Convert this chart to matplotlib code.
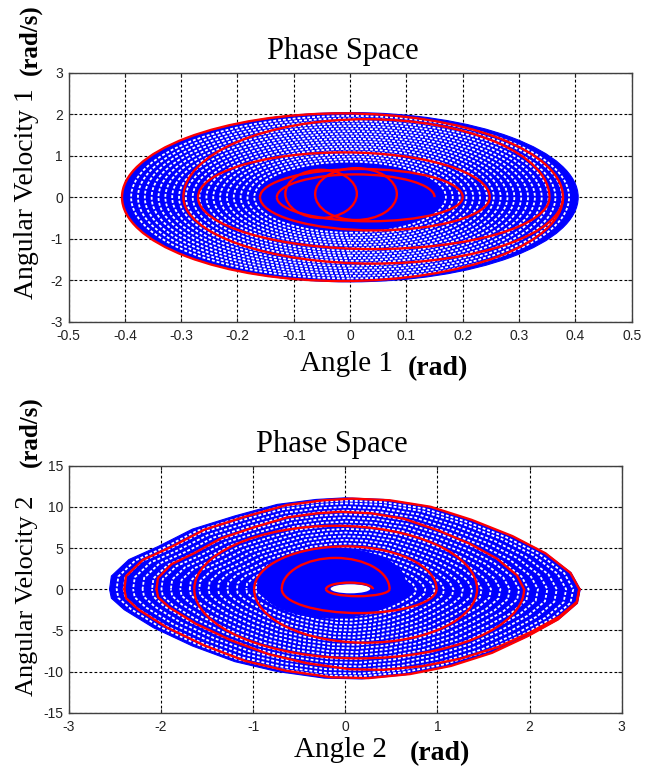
import numpy as np
import matplotlib
matplotlib.use("Agg")
import matplotlib.pyplot as plt
from matplotlib.patches import Ellipse, Arc, Polygon
from matplotlib.transforms import Affine2D

plt.rcParams['axes.unicode_minus'] = False

# ---------------- data ----------------
angle1_ticks = [-0.5, -0.4, -0.3, -0.2, -0.1, 0, 0.1, 0.2, 0.3, 0.4, 0.5]
angle1_labels = ['-0.5', '-0.4', '-0.3', '-0.2', '-0.1', '0', '0.1', '0.2', '0.3', '0.4', '0.5']
vel1_ticks = [-3, -2, -1, 0, 1, 2, 3]
angle2_ticks = [-3, -2, -1, 0, 1, 2, 3]
vel2_ticks = [-15, -10, -5, 0, 5, 10, 15]

# chart 1: blue region (semi-axes) and dense core
angle1_extent = [-0.405, 0.405]
vel1_extent = [-2.04, 2.04]
angle1_core = [-0.16, 0.15]
vel1_core = [-0.62, 0.74]
ring1_scale = [0.42, 0.45, 0.48, 0.51, 0.54, 0.57, 0.60, 0.63, 0.66, 0.69,
               0.72, 0.75, 0.78, 0.81, 0.84, 0.87, 0.90, 0.93, 0.96]

# chart 1: red trajectory, zero crossings and peaks of each half loop
red1_right = [0.15, 0.20, 0.248, 0.354, 0.378, 0.378]
red1_left = [-0.13, -0.16, -0.27, -0.296, -0.405]
red1_top = [0.55, 0.68, 1.08, 1.88, 2.02]
red1_bottom = [-0.58, -0.80, -1.25, -1.60, -2.02]
# chart 1: small closed red loops in the centre (left, right, bottom, top)
red1_loop_left = [-0.115, -0.062]
red1_loop_right = [0.012, 0.083]
red1_loop_bottom = [-0.50, -0.55]
red1_loop_top = [0.66, 0.70]

# chart 2: blue region outline (upper edge then lower edge)
angle2_edge = [-2.56, -2.54, -2.35, -2.03, -1.66, -1.20, -0.74, -0.32, 0.00, 0.42,
               0.88, 1.34, 1.80, 2.17, 2.45, 2.55, 2.52, 2.31, 1.98, 1.57,
               1.11, 0.65, 0.18, -0.23, -0.74, -1.20, -1.66, -2.08, -2.40, -2.54]
vel2_edge = [0.0, 1.6, 3.6, 5.2, 7.3, 8.9, 10.3, 10.9, 11.1, 10.9,
             10.1, 8.5, 6.5, 4.4, 2.0, 0.0, -1.7, -3.7, -5.7, -7.8,
             -9.4, -10.4, -10.9, -10.8, -10.0, -8.8, -6.9, -4.7, -2.5, -1.1]
angle2_core = [-0.95, 0.65]
vel2_core = [-3.5, 5.0]
angle2_hole = [-0.16, 0.27]
vel2_hole = [-0.5, 0.6]
ring2_scale = [0.30, 0.34, 0.38, 0.42, 0.46, 0.50, 0.54, 0.58, 0.62, 0.66,
               0.70, 0.74, 0.78, 0.82, 0.86, 0.90, 0.94, 0.97]

# chart 2: red trajectory
red2_right = [0.30, 0.48, 0.99, 1.43, 1.94, 2.54, 2.54]
red2_left = [-0.21, -0.69, -0.99, -1.64, -2.05, -2.40]
red2_top = [0.8, 3.8, 5.2, 7.7, 9.4, 11.0]
red2_bottom = [-0.85, -2.9, -6.5, -8.4, -9.8, -10.8]
red2_lens_from = 4   # loops from this index on follow the lens-shaped boundary

BLUE = '#0000ff'
RED = '#ff0000'

W, H = 668, 771
fig = plt.figure(figsize=(W / 100, H / 100), dpi=100)
ax1 = fig.add_axes([68.5 / W, 1 - 321.7 / H, 563.2 / W, 249.0 / H])
ax2 = fig.add_axes([69.0 / W, 1 - 712.7 / H, 552.7 / W, 247.0 / H])


def style(ax, xt, yt, xl=None):
    ax.set_xticks(xt)
    ax.set_yticks(yt)
    if xl is not None:
        ax.set_xticklabels(xl)
    ax.set_xlim(xt[0], xt[-1])
    ax.set_ylim(yt[0], yt[-1])
    ax.set_axisbelow(True)
    ax.grid(True, color='black', linestyle=(0, (2.5, 2.0)), linewidth=0.8)
    ax.tick_params(direction='in', length=3, width=0.8, top=True, right=True,
                   labelsize=10, colors='#222222')
    ax.tick_params(axis='x', pad=5)
    ax.tick_params(axis='y', pad=4)
    for lab in ax.get_xticklabels() + ax.get_yticklabels():
        lab.set_family('Liberation Sans')
    for s in ax.spines.values():
        s.set_color('#404040')
        s.set_linewidth(1.0)


def white_ring_style(i):
    return dict(edgecolor='white', lw=1.3, linestyle=((i * 1.3) % 3.0, (1.6, 1.1)))


# normalised lens half-shapes taken from the blue outline of chart 2
ex = np.asarray(angle2_edge)
ey = np.asarray(vel2_edge)
i_right = int(np.argmax(ex))
up_x, up_y = ex[:i_right + 1], ey[:i_right + 1]
lo_x = np.append(ex[i_right:], ex[0])
lo_y = np.append(ey[i_right:], ey[0])
def norm_half(x, y):
    return (x - ex.min()) / (ex.max() - ex.min()), np.abs(y) / np.abs(y).max()
up_u, up_v = norm_half(up_x, up_y)
lo_u, lo_v = norm_half(lo_x, lo_y)


def red_spiral(ax, right, left, top, bottom, lens_from=None):
    for i in range(len(left)):
        r0, l0, r1 = right[i], left[i], right[i + 1]
        if lens_from is not None and i >= lens_from:
            ax.plot(l0 + up_u * (r0 - l0), up_v * top[i], color=RED, lw=1.7, zorder=5)
            ax.plot(l0 + lo_u * (r1 - l0), -lo_v * abs(bottom[i]), color=RED, lw=1.7, zorder=5)
        else:
            ax.add_patch(Arc(((r0 + l0) / 2, 0), r0 - l0, 2 * top[i], theta1=0, theta2=180,
                             color=RED, lw=1.7, zorder=5))
            ax.add_patch(Arc(((l0 + r1) / 2, 0), r1 - l0, -2 * bottom[i], theta1=180, theta2=360,
                             color=RED, lw=1.7, zorder=5))


# ---------------- chart 1 ----------------
style(ax1, angle1_ticks, vel1_ticks, angle1_labels)
cx1 = (angle1_extent[0] + angle1_extent[1]) / 2
cy1 = (vel1_extent[0] + vel1_extent[1]) / 2
w1 = angle1_extent[1] - angle1_extent[0]
h1 = vel1_extent[1] - vel1_extent[0]
ax1.add_patch(Ellipse((cx1, cy1), w1, h1, facecolor=BLUE, edgecolor=BLUE, lw=0.8, zorder=2))
for i, s in enumerate(ring1_scale):
    ax1.add_patch(Ellipse((cx1, cy1), w1 * s, h1 * s, fill=False, zorder=3, **white_ring_style(i)))
ax1.add_patch(Ellipse(((angle1_core[0] + angle1_core[1]) / 2, (vel1_core[0] + vel1_core[1]) / 2),
                      angle1_core[1] - angle1_core[0], vel1_core[1] - vel1_core[0],
                      facecolor=BLUE, edgecolor=BLUE, zorder=4))
red_spiral(ax1, red1_right, red1_left, red1_top, red1_bottom)
for l0, r0, b0, t0 in zip(red1_loop_left, red1_loop_right, red1_loop_bottom, red1_loop_top):
    ax1.add_patch(Ellipse(((l0 + r0) / 2, (b0 + t0) / 2), r0 - l0, t0 - b0,
                          fill=False, edgecolor=RED, lw=1.7, zorder=5))

# ---------------- chart 2 ----------------
style(ax2, angle2_ticks, vel2_ticks)
edge = np.column_stack([angle2_edge, vel2_edge])
ax2.add_patch(Polygon(edge, closed=True, facecolor=BLUE, edgecolor=BLUE, lw=0.8, zorder=2))
for i, s in enumerate(ring2_scale):
    ax2.add_patch(Polygon(edge, closed=True, fill=False,
                          transform=Affine2D().scale(s) + ax2.transData, zorder=3,
                          **white_ring_style(i)))
ax2.add_patch(Ellipse(((angle2_core[0] + angle2_core[1]) / 2, (vel2_core[0] + vel2_core[1]) / 2),
                      angle2_core[1] - angle2_core[0], vel2_core[1] - vel2_core[0],
                      facecolor=BLUE, edgecolor=BLUE, zorder=4))
ax2.add_patch(Ellipse(((angle2_hole[0] + angle2_hole[1]) / 2, (vel2_hole[0] + vel2_hole[1]) / 2),
                      angle2_hole[1] - angle2_hole[0], vel2_hole[1] - vel2_hole[0],
                      facecolor='white', edgecolor='none', zorder=4.5))
red_spiral(ax2, red2_right, red2_left, red2_top, red2_bottom, lens_from=red2_lens_from)

# ---------------- texts ----------------
serif = 'Liberation Serif'
def px(x, y):
    return x / W, 1 - y / H

fig.text(*px(343, 59.5), 'Phase Space', family=serif, size=22, ha='center', va='baseline')
fig.text(*px(332, 452), 'Phase Space', family=serif, size=22, ha='center', va='baseline')
fig.text(*px(346, 370.5), 'Angle 1', family=serif, size=21, ha='center', va='baseline')
fig.text(*px(438, 375), '(rad)', family=serif, size=20, weight='bold', ha='center', va='baseline')
fig.text(*px(340, 757), 'Angle 2', family=serif, size=21, ha='center', va='baseline')
fig.text(*px(440, 760), '(rad)', family=serif, size=20, weight='bold', ha='center', va='baseline')
fig.text(*px(33, 194), 'Angular Velocity 1', family=serif, size=20, rotation=90,
         rotation_mode='anchor', ha='center', va='baseline')
fig.text(*px(36.5, 40), '(rad/s)', family=serif, size=18, weight='bold', rotation=90,
         rotation_mode='anchor', ha='center', va='baseline')
fig.text(*px(33, 596), 'Angular Velocity 2', family=serif, size=19, rotation=90,
         rotation_mode='anchor', ha='center', va='baseline')
fig.text(*px(36.5, 432), '(rad/s)', family=serif, size=18, weight='bold', rotation=90,
         rotation_mode='anchor', ha='center', va='baseline')

fig.savefig('out.png', dpi=100)
